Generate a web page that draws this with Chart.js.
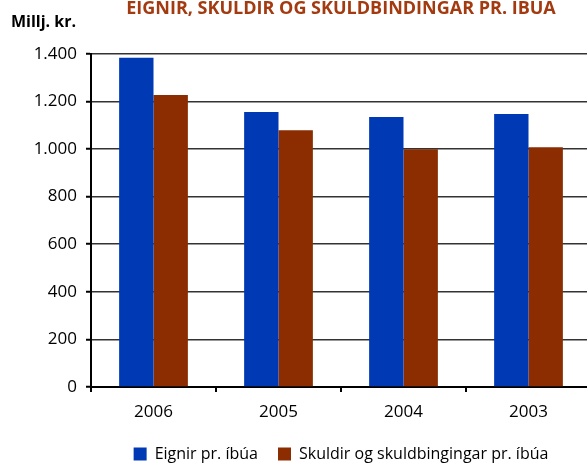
<!DOCTYPE html>
<html>
<head>
<meta charset="utf-8">
<script src="https://cdn.jsdelivr.net/npm/chart.js@4/dist/chart.umd.min.js"></script>
<style>
  html, body { margin: 0; padding: 0; background: #fff; overflow: hidden; }
  #wrap { width: 600px; height: 464px; }
</style>
</head>
<body>
<div id="wrap"><canvas id="chart"></canvas></div>
<script>
// ═══════════ DATA ═══════════
const years = ['2006', '2005', '2004', '2003'];
const eignir = [1383, 1155, 1134, 1147];
const skuldir = [1227, 1079, 999, 1007];
const yTicks = [0, 200, 400, 600, 800, 1000, 1200, 1400];

const FONT = 'Open Sans';
const fmt = v => v.toLocaleString('de-DE');

new Chart(document.getElementById('chart'), {
  type: 'bar',
  data: {
    labels: years,
    datasets: [
      { label: 'Eignir pr. íbúa', data: eignir, backgroundColor: '#0039B4' },
      { label: 'Skuldir og skuldbingingar pr. íbúa', data: skuldir, backgroundColor: '#8B2D00' }
    ]
  },
  options: {
    responsive: true,
    maintainAspectRatio: false,
    animation: false,
    layout: { padding: { left: 11, right: 9, top: 0, bottom: -8 } },
    datasets: { bar: { categoryPercentage: 0.55, barPercentage: 1.0 } },
    scales: {
      x: {
        afterFit: s => { s.height = 39; },
        grid: { drawOnChartArea: false, color: '#000', lineWidth: 2, tickLength: 5, offset: true },
        border: { color: '#000', width: 2 },
        ticks: { color: '#000', padding: 10, font: { family: FONT, size: 17 } }
      },
      y: {
        min: 0, max: 1400,
        afterFit: s => { s.width = 80; },
        afterBuildTicks: s => { s.ticks = yTicks.map(v => ({ value: v })); },
        grid: { color: '#333', lineWidth: 1.5, tickColor: '#000', tickWidth: 2, tickLength: 5 },
        border: { color: '#000', width: 2 },
        ticks: { color: '#000', padding: 9, font: { family: FONT, size: 17 }, callback: v => fmt(v) }
      }
    },
    plugins: {
      title: {
        display: true,
        fullSize: false,
        text: 'EIGNIR, SKULDIR OG SKULDBINDINGAR PR. ÍBÚA',
        color: '#A33A10',
        font: { family: FONT, size: 18, weight: 'bold', lineHeight: 1 },
        padding: { top: 0, bottom: 0 }
      },
      subtitle: {
        display: true,
        text: 'Millj. kr.',
        align: 'start',
        color: '#000',
        font: { family: FONT, size: 16, weight: 'bold', lineHeight: 0.55 },
        padding: { top: 0, bottom: 27 }
      },
      legend: {
        position: 'bottom',
        fullSize: false,
        labels: { color: '#000', boxWidth: 13, boxHeight: 13, padding: 20, font: { family: FONT, size: 16 } }
      },
      tooltip: { enabled: false }
    }
  }
});
</script>
</body>
</html>
